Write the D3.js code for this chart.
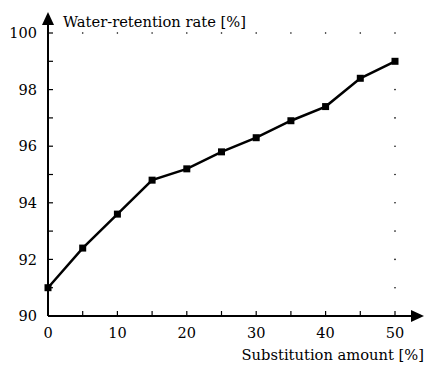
<!DOCTYPE html>
<html>
<head>
<meta charset="utf-8">
<script src="https://cdn.jsdelivr.net/npm/d3@7"></script>
<style>
  body { margin: 0; background: #fff; }
  svg text { font-family: "DejaVu Serif"; }
</style>
</head>
<body>
<div id="chart"></div>
<script>
// data
const substitution = [0, 5, 10, 15, 20, 25, 30, 35, 40, 45, 50];
const retention = [91.0, 92.4, 93.6, 94.8, 95.2, 95.8, 96.3, 96.9, 97.4, 98.4, 99.0];
const xTicks = [0, 10, 20, 30, 40, 50];
const yTicks = [90, 92, 94, 96, 98, 100];
const xTitle = "Substitution amount [%]";
const yTitle = "Water-retention rate [%]";

const width = 424, height = 366;
const margin = { top: 33, right: 29, bottom: 50, left: 48 };

const svg = d3.select("#chart").append("svg")
  .attr("width", width)
  .attr("height", height);

const x = d3.scaleLinear().domain([0, 50]).range([margin.left, width - margin.right]);
const y = d3.scaleLinear().domain([90, 100]).range([height - margin.bottom, margin.top]);

const x0 = x(0), y0 = y(90);

// dotted frame on top and right
svg.append("g").selectAll("circle")
  .data(d3.range(5, 51, 5))
  .join("circle")
  .attr("cx", d => x(d)).attr("cy", y(100)).attr("r", 0.8).attr("fill", "#000");
svg.append("g").selectAll("circle")
  .data(d3.range(91, 100, 1))
  .join("circle")
  .attr("cx", x(50)).attr("cy", d => y(d)).attr("r", 0.8).attr("fill", "#000");

// axes lines
svg.append("line")
  .attr("x1", x0).attr("x2", 413).attr("y1", y0).attr("y2", y0)
  .attr("stroke", "#000").attr("stroke-width", 2);
svg.append("line")
  .attr("x1", x0).attr("x2", x0).attr("y1", y0).attr("y2", 24)
  .attr("stroke", "#000").attr("stroke-width", 2);

// arrows
svg.append("path")
  .attr("d", `M${x0 - 6},25 L${x0},12 L${x0 + 6},25 Z`).attr("fill", "#000");
svg.append("path")
  .attr("d", `M411,${y0 - 6} L424,${y0} L411,${y0 + 6} Z`).attr("fill", "#000");

// x ticks (inside)
svg.append("g").selectAll("line")
  .data(d3.range(5, 51, 5))
  .join("line")
  .attr("x1", d => x(d)).attr("x2", d => x(d))
  .attr("y1", y0).attr("y2", y0 - 5)
  .attr("stroke", "#000").attr("stroke-width", 1.2);

svg.append("g").selectAll("text")
  .data(xTicks)
  .join("text")
  .attr("x", d => x(d)).attr("y", 338)
  .attr("text-anchor", "middle")
  .attr("font-size", 14.5)
  .text(d => d);

// y ticks (inside)
svg.append("g").selectAll("line")
  .data(d3.range(91, 101, 1))
  .join("line")
  .attr("x1", x0).attr("x2", x0 + 5)
  .attr("y1", d => y(d)).attr("y2", d => y(d))
  .attr("stroke", "#000").attr("stroke-width", 1.2);

svg.append("g").selectAll("text")
  .data(yTicks)
  .join("text")
  .attr("x", 37).attr("y", d => y(d) + 5.2)
  .attr("text-anchor", "end")
  .attr("font-size", 14.5)
  .text(d => d);

// titles
svg.append("text")
  .attr("x", 63).attr("y", 27)
  .attr("font-size", 14.7)
  .text(yTitle);
svg.append("text")
  .attr("x", 424).attr("y", 360)
  .attr("text-anchor", "end")
  .attr("font-size", 14.7)
  .text(xTitle);

// line and markers
const line = d3.line().x((d, i) => x(substitution[i])).y(d => y(d));
svg.append("path")
  .datum(retention)
  .attr("d", line)
  .attr("fill", "none")
  .attr("stroke", "#000")
  .attr("stroke-width", 2.5);

svg.append("g").selectAll("rect")
  .data(retention)
  .join("rect")
  .attr("x", (d, i) => x(substitution[i]) - 3.5)
  .attr("y", d => y(d) - 3.5)
  .attr("width", 7).attr("height", 7)
  .attr("fill", "#000");
</script>
</body>
</html>
